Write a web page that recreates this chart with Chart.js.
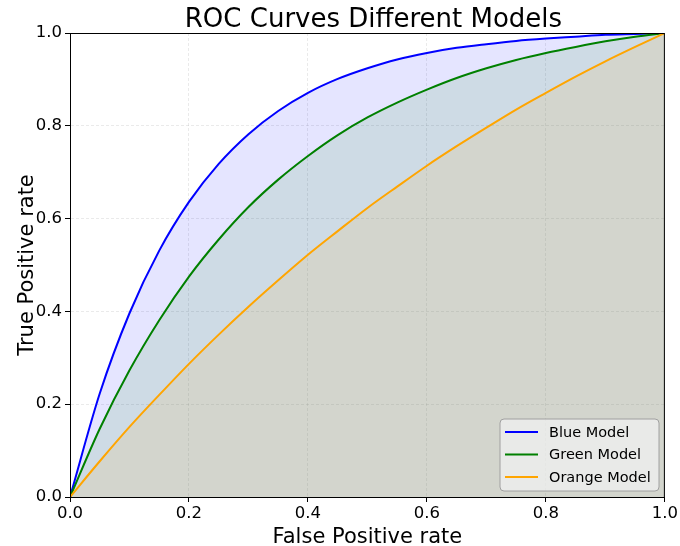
<!DOCTYPE html>
<html>
<head>
<meta charset="utf-8">
<script src="https://cdn.jsdelivr.net/npm/chart.js@4.4.1/dist/chart.umd.min.js"></script>
<style>
  html, body { margin: 0; padding: 0; background: #ffffff; }
  #wrap { width: 680px; height: 546px; position: relative; }
</style>
</head>
<body>
<div id="wrap"><canvas id="c" width="680" height="546"></canvas></div>
<script>
// ---- data ----
const chartTitle = "ROC Curves Different Models";
const xAxisTitle = "False Positive rate";
const yAxisTitle = "True Positive rate";
const seriesNames = ["Blue Model", "Green Model", "Orange Model"];
const tickValues = [0, 0.2, 0.4, 0.6, 0.8, 1.0];

const fpr = [0, 0.05, 0.10, 0.15, 0.20, 0.25, 0.30, 0.35, 0.40, 0.45, 0.50,
             0.55, 0.60, 0.65, 0.70, 0.75, 0.80, 0.85, 0.90, 0.95, 1.00];
const blueTpr = [0, 0.223, 0.396, 0.531, 0.636, 0.718, 0.782, 0.832, 0.871, 0.901, 0.924,
                 0.943, 0.957, 0.968, 0.976, 0.983, 0.988, 0.992, 0.996, 0.998, 1.000];
const greenTpr = [0, 0.147, 0.273, 0.381, 0.475, 0.555, 0.625, 0.684, 0.735, 0.780, 0.818,
                  0.850, 0.878, 0.903, 0.924, 0.942, 0.957, 0.970, 0.982, 0.992, 1.000];
const orangeTpr = [0, 0.077, 0.151, 0.220, 0.287, 0.350, 0.410, 0.467, 0.522, 0.573, 0.623,
                   0.669, 0.714, 0.756, 0.796, 0.835, 0.871, 0.906, 0.939, 0.970, 1.000];

const lineColors = ["#0000ff", "#008000", "#ffa500"];
const fillColors = ["rgba(0,0,255,0.1)", "rgba(0,128,0,0.1)", "rgba(255,165,0,0.1)"];
const tprSeries = [blueTpr, greenTpr, orangeTpr];

const FONT = "'DejaVu Sans', 'Liberation Sans', sans-serif";

const datasets = tprSeries.map((ys, k) => ({
  label: seriesNames[k],
  data: fpr.map((x, i) => ({ x: x, y: ys[i] })),
  borderColor: lineColors[k],
  backgroundColor: fillColors[k],
  borderWidth: 2,
  pointRadius: 0,
  fill: 'origin',
  cubicInterpolationMode: 'monotone',
  order: 3 - k
}));

const decorPlugin = {
  id: 'decor',
  afterDatasetsDraw(chart) {
    const ctx = chart.ctx;
    const a = chart.chartArea;
    ctx.save();
    // frame (spines)
    ctx.strokeStyle = '#000';
    ctx.lineWidth = 1;
    ctx.strokeRect(a.left + 0.5, a.top + 0.5, a.right - a.left - 1, a.bottom - a.top);
    // legend
    const bx = 500, by = 419, bw = 159, bh = 72, r = 4;
    ctx.beginPath();
    ctx.moveTo(bx + r, by);
    ctx.lineTo(bx + bw - r, by);
    ctx.quadraticCurveTo(bx + bw, by, bx + bw, by + r);
    ctx.lineTo(bx + bw, by + bh - r);
    ctx.quadraticCurveTo(bx + bw, by + bh, bx + bw - r, by + bh);
    ctx.lineTo(bx + r, by + bh);
    ctx.quadraticCurveTo(bx, by + bh, bx, by + bh - r);
    ctx.lineTo(bx, by + r);
    ctx.quadraticCurveTo(bx, by, bx + r, by);
    ctx.closePath();
    ctx.fillStyle = 'rgba(240,240,240,0.75)';
    ctx.fill();
    ctx.strokeStyle = '#a0a0a0';
    ctx.lineWidth = 1;
    ctx.stroke();
    ctx.font = '14.5px ' + FONT;
    ctx.textBaseline = 'middle';
    ctx.textAlign = 'left';
    chart.data.datasets.forEach((ds, i) => {
      const yy = 432 + i * 22.5;
      ctx.strokeStyle = ds.borderColor;
      ctx.lineWidth = 2;
      ctx.beginPath();
      ctx.moveTo(505, yy);
      ctx.lineTo(538, yy);
      ctx.stroke();
      ctx.fillStyle = '#000';
      ctx.fillText(ds.label, 549, yy + 1);
    });
    ctx.restore();
  },
  afterDraw(chart) {
    const ctx = chart.ctx;
    const a = chart.chartArea;
    ctx.save();
    ctx.fillStyle = '#000';
    ctx.textAlign = 'center';
    ctx.textBaseline = 'alphabetic';
    ctx.font = '26px ' + FONT;
    ctx.fillText(chartTitle, (a.left + a.right) / 2 + 6, 27);
    ctx.font = '21px ' + FONT;
    ctx.fillText(xAxisTitle, (a.left + a.right) / 2, 543);
    ctx.translate(33, (a.top + a.bottom) / 2);
    ctx.rotate(-Math.PI / 2);
    ctx.fillText(yAxisTitle, 0, 0);
    ctx.restore();
  }
};

const commonGrid = {
  color: 'rgba(150,150,150,0.2)',
  lineWidth: 1,
  drawTicks: true,
  tickLength: 5,
  tickColor: '#000',
  tickWidth: 1,
  tickBorderDash: []
};

new Chart(document.getElementById('c'), {
  type: 'line',
  data: { datasets: datasets },
  options: {
    responsive: false,
    animation: false,
    layout: { autoPadding: false, padding: { top: 33, right: 14, left: 0, bottom: 0 } },
    plugins: {
      legend: { display: false },
      title: { display: false },
      tooltip: { enabled: false }
    },
    scales: {
      x: {
        type: 'linear',
        min: 0, max: 1,
        afterFit(scale) { scale.height = 49; },
        afterBuildTicks(scale) { scale.ticks = tickValues.map(v => ({ value: v })); },
        ticks: {
          color: '#000',
          padding: 2,
          maxRotation: 0,
          font: { family: FONT, size: 16.5 },
          callback: v => Number(v).toFixed(1)
        },
        grid: commonGrid,
        border: { display: true, color: '#000', width: 1, dash: [3, 2] }
      },
      y: {
        type: 'linear',
        min: 0, max: 1,
        afterFit(scale) { scale.width = 70; },
        afterBuildTicks(scale) { scale.ticks = tickValues.map(v => ({ value: v })); },
        ticks: {
          color: '#000',
          padding: 3,
          font: { family: FONT, size: 16.5 },
          callback: v => Number(v).toFixed(1)
        },
        grid: commonGrid,
        border: { display: true, color: '#000', width: 1, dash: [3, 2] }
      }
    }
  },
  plugins: [decorPlugin]
});
</script>
</body>
</html>
